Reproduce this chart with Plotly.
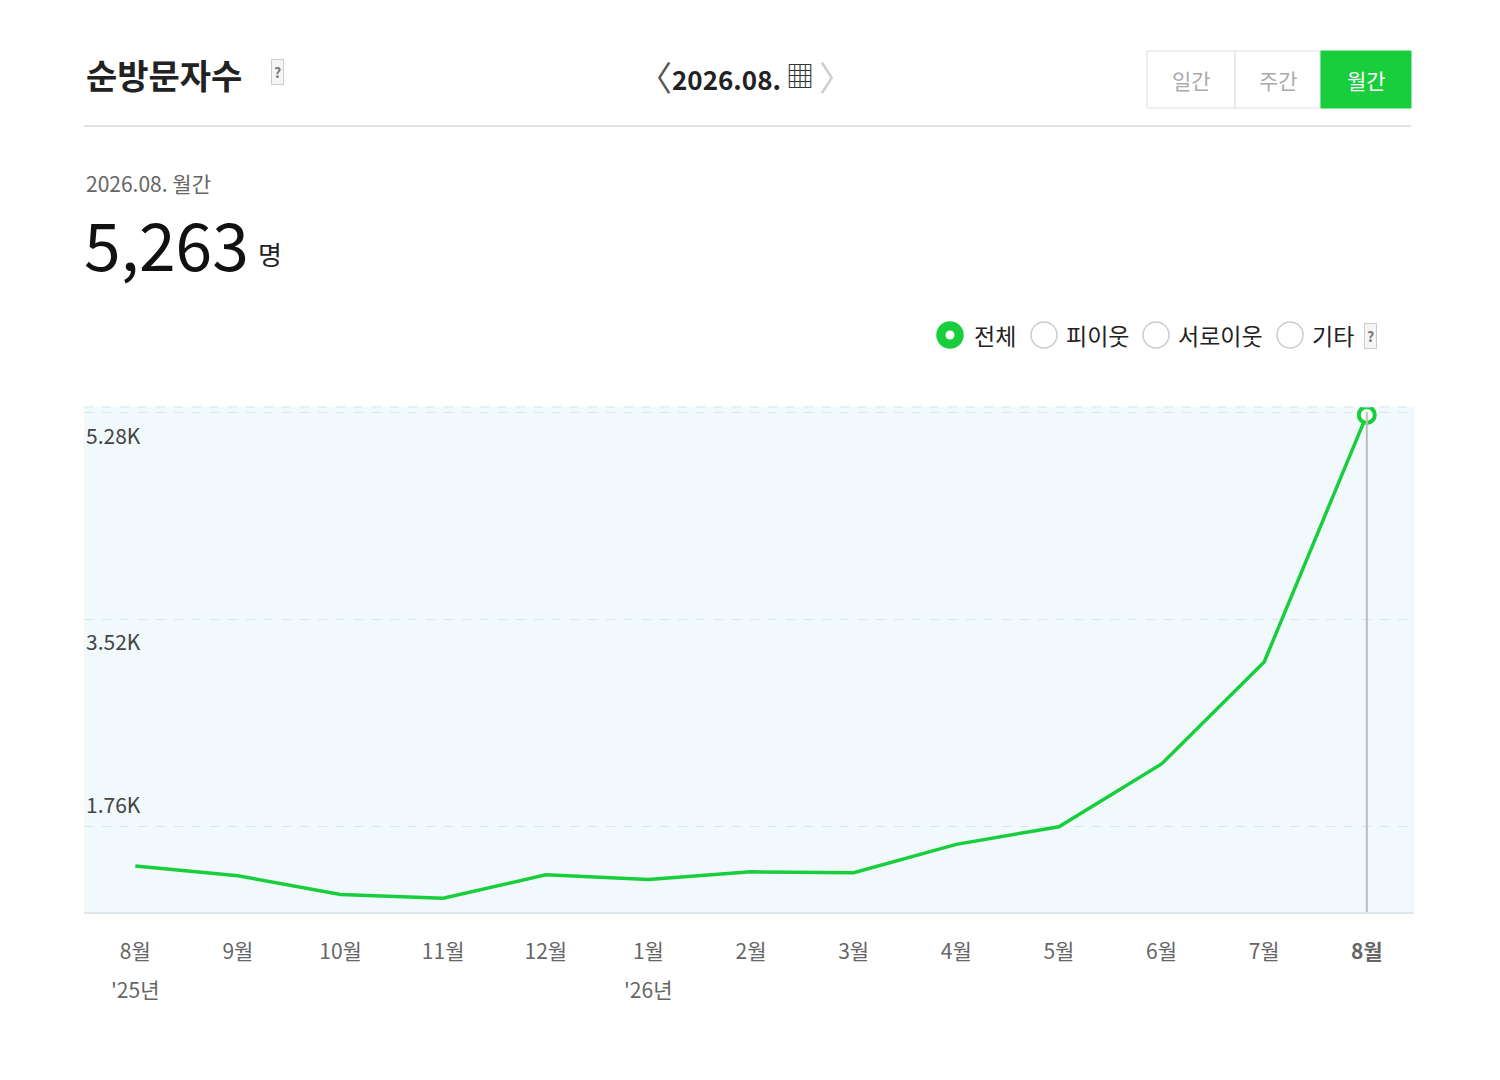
import plotly.graph_objects as go

months = ["8월", "9월", "10월", "11월", "12월", "1월", "2월", "3월", "4월", "5월", "6월", "7월", "8월"]
years = ["'25년", "", "", "", "", "'26년", "", "", "", "", "", "", ""]
visitors = [1426, 1343, 1184, 1151, 1351, 1310, 1376, 1368, 1610, 1760, 2294, 3161, 5263]
y_ticks = [1760, 3520, 5280]
y_labels = ["1.76K", "3.52K", "5.28K"]

GREEN = "#19ce3c"
FONT = "Noto Sans CJK KR"
L, R, T, B = 84, 1414, 407, 913
OFF = 8  # page body margin


def px(x):
    return (x - L) / (R - L)


def py(y):
    return (B - y) / (B - T)


ticktext = [f"<b>{m}</b>" if i == len(months) - 1 else m for i, m in enumerate(months)]

fig = go.Figure()
fig.add_trace(go.Scatter(
    x=list(range(len(visitors))), y=visitors, mode="lines",
    line=dict(color=GREEN, width=3.5), hoverinfo="skip"))
fig.add_trace(go.Scatter(
    x=[len(visitors) - 1], y=[visitors[-1]], mode="markers",
    marker=dict(size=16, color="white", line=dict(color=GREEN, width=4)),
    hoverinfo="skip"))

shapes = []
annotations = []
shapes.append(dict(type="line", xref="x", yref="paper", x0=len(visitors) - 1, x1=len(visitors) - 1,
                   y0=0, y1=py(412), line=dict(color="#bbbbbb", width=2)))
shapes.append(dict(type="line", xref="paper", yref="paper", x0=0, x1=1, y0=0, y1=0,
                   line=dict(color="#dfe6ea", width=2)))
shapes.append(dict(type="line", xref="paper", yref="paper", x0=0, x1=1, y0=1, y1=1,
                   line=dict(color="#cfe3ec", width=1, dash="dash")))
shapes.append(dict(type="line", xref="paper", yref="paper", x0=0, x1=px(1411), y0=py(126), y1=py(126),
                   line=dict(color="#e2e2e2", width=2)))

label_pos = {1760: 804, 3520: 641, 5280: 435}
for v, t in zip(y_ticks, y_labels):
    annotations.append(dict(xref="paper", yref="paper", x=0, y=py(label_pos[v]), text=t,
                            showarrow=False, xanchor="left", yanchor="middle",
                            font=dict(size=21, color="#444", family=FONT)))
for i, yr in enumerate(years):
    if yr:
        annotations.append(dict(xref="x", yref="paper", x=i, y=py(989), text=yr, showarrow=False,
                                xanchor="center", yanchor="middle",
                                font=dict(size=21, color="#666", family=FONT)))
n_fixed = len(annotations)

annotations += [
    dict(x=px(84), y=py(74), text="<b>순방문자수</b>", xanchor="left", font=dict(size=34, color="#222")),
    dict(x=px(277), y=py(72), text="<b>?</b>", xanchor="center", font=dict(size=14, color="#777"),
         bordercolor="#cccccc", borderwidth=1, bgcolor="#f5f5f5", borderpad=2),
    dict(x=px(655), y=py(76), text="〈", xanchor="center", font=dict(size=34, color="#555")),
    dict(x=px(726), y=py(78), text="<b>2026.08.</b>", xanchor="center", font=dict(size=26, color="#222")),
    dict(x=px(800), y=py(75), text="▦", xanchor="center", font=dict(size=28, color="#333")),
    dict(x=px(836), y=py(76), text="〉", xanchor="center", font=dict(size=34, color="#ccc")),
    dict(x=px(1191), y=py(80), text="일간", xanchor="center", font=dict(size=21, color="#aaa")),
    dict(x=px(1278), y=py(80), text="주간", xanchor="center", font=dict(size=21, color="#aaa")),
    dict(x=px(1366), y=py(80), text="월간", xanchor="center", font=dict(size=21, color="white")),
    dict(x=px(84), y=py(183), text="2026.08. 월간", xanchor="left", font=dict(size=21, color="#666")),
    dict(x=px(82), y=py(242), text="5,263", xanchor="left", font=dict(size=66, color="#111")),
    dict(x=px(256), y=py(254), text="명", xanchor="left", font=dict(size=26, color="#222")),
    dict(x=px(972), y=py(335), text="전체", xanchor="left", font=dict(size=23, color="#222")),
    dict(x=px(1064), y=py(335), text="피이웃", xanchor="left", font=dict(size=23, color="#222")),
    dict(x=px(1176), y=py(335), text="서로이웃", xanchor="left", font=dict(size=23, color="#222")),
    dict(x=px(1310), y=py(335), text="기타", xanchor="left", font=dict(size=23, color="#222")),
    dict(x=px(1370), y=py(336), text="<b>?</b>", xanchor="center", font=dict(size=14, color="#777"),
         bordercolor="#cccccc", borderwidth=1, bgcolor="#f5f5f5", borderpad=2),
]
for a in annotations[n_fixed:]:
    a.update(xref="paper", yref="paper", showarrow=False, yanchor="middle")
    a["font"]["family"] = FONT

for x0, x1, fill, line in [(1147, 1235, "white", "#dddddd"), (1235, 1321, "white", "#dddddd"),
                           (1321, 1411, GREEN, GREEN)]:
    shapes.append(dict(type="rect", xref="paper", yref="paper", x0=px(x0), x1=px(x1),
                       y0=py(108), y1=py(51), fillcolor=fill, line=dict(color=line, width=1), layer="below"))

for cx, on in [(950, True), (1044, False), (1156, False), (1290, False)]:
    r = 13
    shapes.append(dict(type="circle", xref="paper", yref="paper", x0=px(cx - r), x1=px(cx + r),
                       y0=py(335 + r), y1=py(335 - r), fillcolor=GREEN if on else "white",
                       line=dict(color=GREEN if on else "#cccccc", width=1.5)))
    if on:
        shapes.append(dict(type="circle", xref="paper", yref="paper", x0=px(cx - 4.5), x1=px(cx + 4.5),
                           y0=py(339.5), y1=py(330.5), fillcolor="white", line=dict(width=0)))

fig.update_layout(
    width=1500, height=1080,
    margin=dict(l=L - OFF, r=1500 - R + OFF, t=T - OFF, b=1080 - B + OFF),
    paper_bgcolor="white", plot_bgcolor="#f2f9fd",
    showlegend=False, shapes=shapes, annotations=annotations,
    font=dict(family=FONT),
    xaxis=dict(range=[-0.5, 12.46], tickvals=list(range(len(months))), ticktext=ticktext,
               tickfont=dict(size=21, color="#666"), showgrid=False, zeroline=False, ticks="",
               ticklabelstandoff=24),
    yaxis=dict(range=[1026, 5330], tickvals=y_ticks, showticklabels=False,
               gridcolor="#d4e6ee", griddash="dash", gridwidth=1, zeroline=False, fixedrange=True),
)

fig.write_html("out.html")
